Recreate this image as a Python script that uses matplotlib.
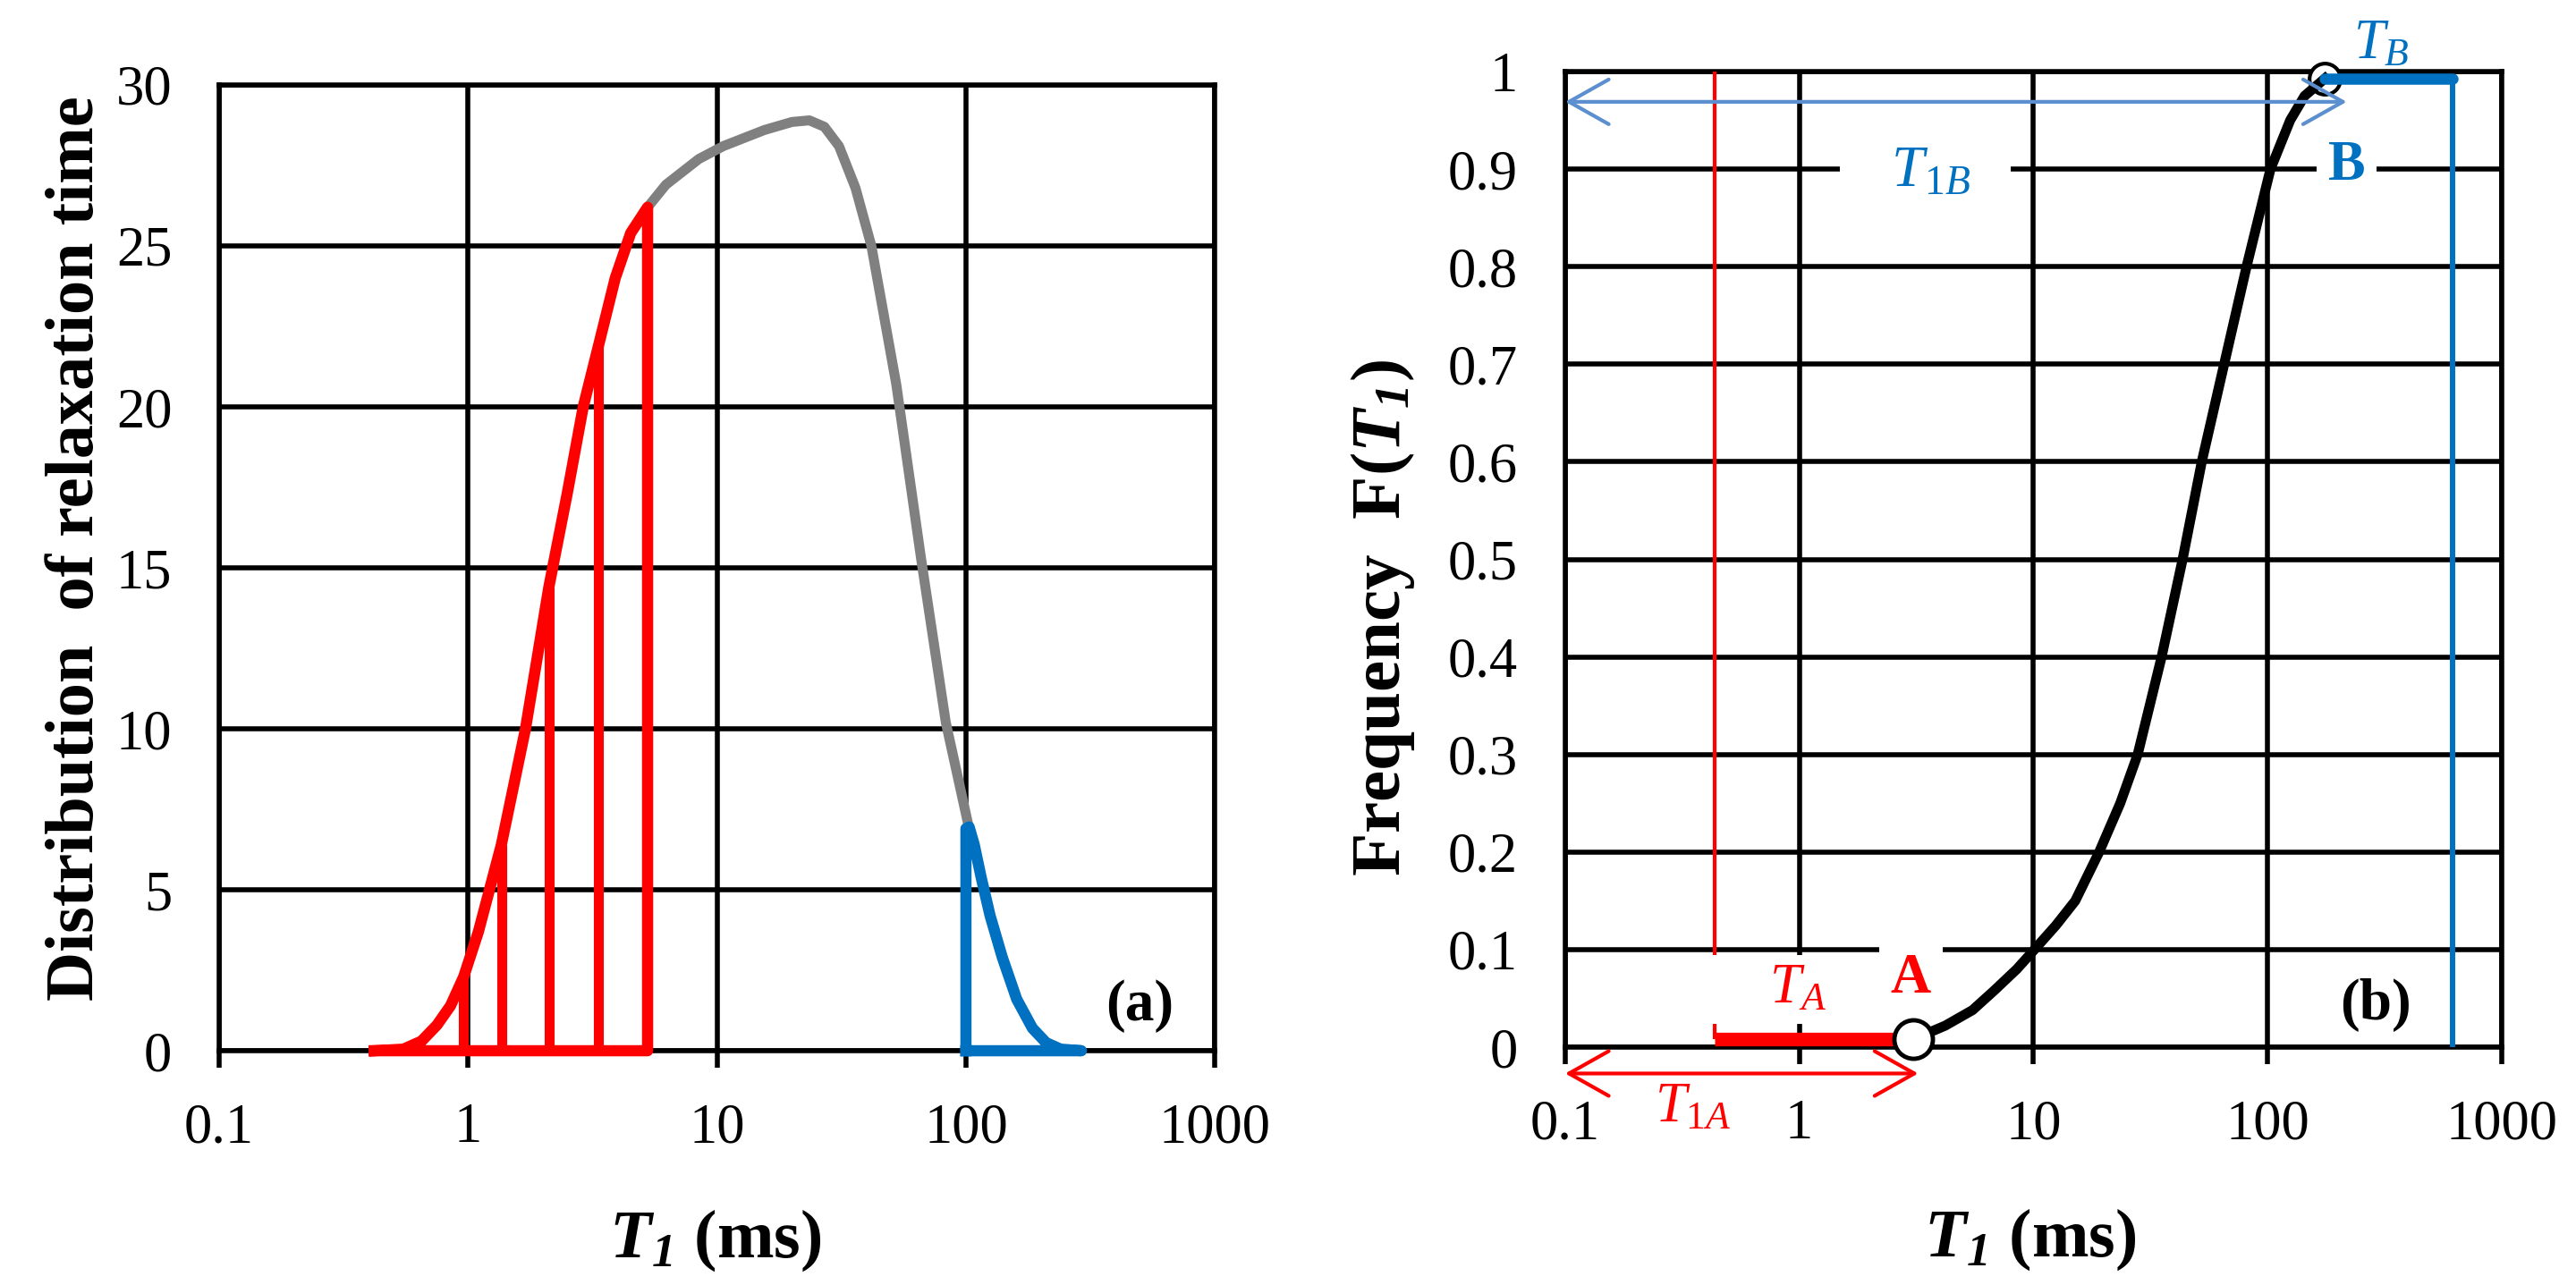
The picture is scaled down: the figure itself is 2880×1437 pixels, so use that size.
import numpy as np
import matplotlib
matplotlib.use("Agg")
import matplotlib.pyplot as plt
from matplotlib.ticker import NullLocator

plt.rcParams['font.family'] = ['Liberation Serif', 'DejaVu Serif']
plt.rcParams['mathtext.fontset'] = 'custom'
plt.rcParams['mathtext.rm'] = 'Liberation Serif'
plt.rcParams['mathtext.it'] = 'Liberation Serif:italic'
plt.rcParams['mathtext.bf'] = 'Liberation Serif:bold'
plt.rcParams['mathtext.bfit'] = 'Liberation Serif:italic:bold'

# ---- panel (a): distribution of relaxation time ----
red_x = [0.42, 0.55, 0.65, 0.75, 0.85, 0.96, 1.1, 1.36, 1.7, 2.11, 2.5, 2.9, 3.34, 3.9, 4.5, 5.26]
red_y = [0, 0.05, 0.3, 0.8, 1.4, 2.3, 3.7, 6.4, 10.0, 14.4, 17.3, 20.0, 21.9, 24.0, 25.4, 26.2]
red_bars_x = [0.96, 1.36, 2.11, 3.34, 5.26]
red_bars_y = [2.3, 6.4, 14.4, 21.9, 26.2]

gray_x = [5.26, 6.23, 8.45, 10.6, 15.5, 20.0, 23.5, 27.0, 30.9, 36, 41.7, 52.5, 66, 83, 103]
gray_y = [26.2, 26.9, 27.7, 28.1, 28.6, 28.85, 28.9, 28.7, 28.1, 26.8, 25.0, 20.7, 15.3, 10.2, 6.9]

blue_x = [100, 103, 108, 115, 125, 140, 160, 185, 210, 240, 291]
blue_y = [6.9, 6.95, 6.4, 5.4, 4.2, 2.9, 1.6, 0.7, 0.25, 0.05, 0]

# ---- panel (b): cumulative frequency ----
cdf_x = [3.06, 4.2, 5.5, 6.8, 8.5, 10.1, 12.5, 15.1, 19.1, 23.5, 27.9, 35.3, 43.4, 52.4, 65.3,
         81.4, 103, 125, 144, 176]
cdf_y = [0.008, 0.022, 0.038, 0.058, 0.08, 0.10, 0.125, 0.15, 0.20, 0.25, 0.30, 0.40, 0.50,
         0.60, 0.70, 0.80, 0.90, 0.95, 0.975, 0.993]
point_a = (3.06, 0.008)
point_b = (176, 0.993)
t_a_start = 0.434
t_b_end = 617
arrow_1a = (0.1, 3.22, -0.027)
arrow_1b = (0.1, 218, 0.969)

xticks = [0.1, 1, 10, 100, 1000]
xtick_labels = ['0.1', '1', '10', '100', '1000']
yticks_a = [0, 5, 10, 15, 20, 25, 30]
yticks_b = [0, 0.1, 0.2, 0.3, 0.4, 0.5, 0.6, 0.7, 0.8, 0.9, 1]
ytick_labels_b = ['0', '0.1', '0.2', '0.3', '0.4', '0.5', '0.6', '0.7', '0.8', '0.9', '1']

RED = '#FF0000'
BLUE = '#0070C0'
ARROW_BLUE = '#5B8FCF'
GRID_LW = 4

fig = plt.figure(figsize=(28.8, 14.37), dpi=100)
ax1 = fig.add_axes([0.0851, 0.1823, 0.3865, 0.7516])
ax2 = fig.add_axes([0.6076, 0.1851, 0.3635, 0.7592])


def style_axes(ax, yticks, ylabels):
    ax.set_xscale('log')
    ax.set_xlim(0.1, 1000)
    ax.set_xticks(xticks)
    ax.set_xticklabels(xtick_labels)
    ax.xaxis.set_minor_locator(NullLocator())
    ax.set_yticks(yticks)
    ax.set_yticklabels(ylabels)
    ax.set_ylim(yticks[0], yticks[-1])
    ax.grid(True, color='black', lw=GRID_LW)
    ax.set_axisbelow(True)
    for s in ax.spines.values():
        s.set_linewidth(GRID_LW)
        s.set_color('black')
    ax.tick_params(axis='x', length=14, width=GRID_LW, direction='out', pad=28, labelsize=45)
    ax.tick_params(axis='y', length=0, pad=38, labelsize=45)


style_axes(ax1, yticks_a, [str(v) for v in yticks_a])
style_axes(ax2, yticks_b, ytick_labels_b)

# panel (a) curves
ax1.plot(gray_x, gray_y, color='#808080', lw=8, solid_capstyle='round', zorder=3)
ax1.plot(red_x + [red_x[-1], red_x[0]], red_y + [0, 0], color=RED, lw=9,
         solid_joinstyle='round', zorder=4, clip_on=False)
ax1.vlines(red_bars_x, 0, red_bars_y, color=RED, lw=8, zorder=4)
ax1.plot([blue_x[0]] + blue_x + [blue_x[0]], [0] + blue_y + [0], color=BLUE, lw=9,
         solid_joinstyle='round', zorder=4, clip_on=False)
ax1.text(499, 1.39, '(a)', fontsize=47, fontweight='bold', ha='center', va='center')
ax1.set_xlabel(r'$\mathbfit{T}_{\mathbfit{1}}$ (ms)', fontsize=55, fontweight='bold')
ax1.xaxis.set_label_coords(0.4987, -0.162)
ax1.set_ylabel('Distribution  of relaxation time', fontsize=55, fontweight='bold')
ax1.yaxis.set_label_coords(-0.112, 0.52)

# panel (b)
ax2.plot(cdf_x, cdf_y, color='black', lw=8, zorder=6)
ax2.vlines(t_a_start, point_a[1], 1, color=RED, lw=3, zorder=3)
ax2.plot([t_a_start, point_a[0]], [point_a[1], point_a[1]], color=RED, lw=11, zorder=6,
         solid_capstyle='butt')
ax2.plot([point_b[0], t_b_end], [point_b[1], point_b[1]], color=BLUE, lw=9, zorder=6,
         solid_capstyle='round')
ax2.vlines(t_b_end, 0, point_b[1], color=BLUE, lw=4.3, zorder=6)
ax2.annotate('', xy=(arrow_1a[0], arrow_1a[2]), xytext=(arrow_1a[1], arrow_1a[2]),
             arrowprops=dict(arrowstyle='<->,head_length=1.6,head_width=0.9', color=RED, lw=3,
                             mutation_scale=20, shrinkA=0, shrinkB=0),
             annotation_clip=False)
ax2.annotate('', xy=(arrow_1b[0], arrow_1b[2]), xytext=(arrow_1b[1], arrow_1b[2]),
             arrowprops=dict(arrowstyle='<->,head_length=1.6,head_width=0.9', color=ARROW_BLUE,
                             lw=3, mutation_scale=20, shrinkA=0, shrinkB=0),
             annotation_clip=False, zorder=7)
ax2.plot(*point_a, marker='o', ms=31, mfc='white', mec='black', mew=3.5, zorder=8, clip_on=False)
ax2.plot(*point_b, marker='o', ms=25, mfc='white', mec='black', mew=3, zorder=5, clip_on=False)

white_box = dict(facecolor='white', edgecolor='none', boxstyle='square,pad=0.15')
ax2.text(0.925, 0.059, '    $\\mathit{T}_{\\mathit{A}}$    ', color=RED, fontsize=45,
         ha='center', va='center', bbox=white_box, zorder=5)
ax2.text(3.0, 0.070, 'A', color=RED, fontsize=45, fontweight='bold', ha='center', va='center',
         bbox=dict(facecolor='white', edgecolor='none', boxstyle='square,pad=0.2'), zorder=5)
ax2.text(0.35, -0.063, '$\\mathit{T}_{\\mathit{1A}}$', color=RED, fontsize=45,
         ha='center', va='center', clip_on=False)
ax2.text(3.45, 0.897, '   $\\mathit{T}_{\\mathit{1B}}$   ', color=BLUE, fontsize=47,
         ha='center', va='center', bbox=white_box, zorder=5)
ax2.text(218, 0.903, 'B', color=BLUE, fontsize=45, fontweight='bold', ha='center', va='center',
         bbox=dict(facecolor='white', edgecolor='none', boxstyle='square,pad=0.2'), zorder=5)
ax2.text(305, 1.027, '$\\mathit{T}_{\\mathit{B}}$', color=BLUE, fontsize=45,
         ha='center', va='center', clip_on=False)
ax2.text(290, 0.043, '(b)', fontsize=47, fontweight='bold', ha='center', va='center')
ax2.set_xlabel(r'$\mathbfit{T}_{\mathbfit{1}}$ (ms)', fontsize=55, fontweight='bold')
ax2.xaxis.set_label_coords(0.497, -0.164)
ax2.set_ylabel(r'Frequency  F($\mathbfit{T}_{\mathbfit{1}}$)', fontsize=57, fontweight='bold')
ax2.yaxis.set_label_coords(-0.158, 0.44)

fig.savefig('out.png', dpi=100)
